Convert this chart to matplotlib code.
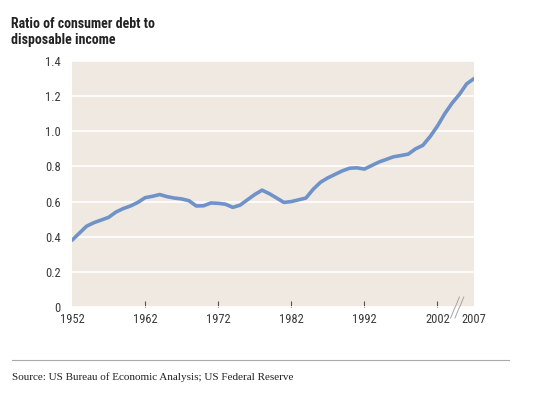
#!/usr/bin/env python3
import matplotlib
matplotlib.use("Agg")
import matplotlib.pyplot as plt
import matplotlib.transforms as mtrans
from matplotlib.lines import Line2D
from matplotlib import font_manager

years = list(range(1952, 2008))
ratio = [0.38, 0.42, 0.46, 0.48, 0.495, 0.51, 0.54, 0.56, 0.575, 0.595,
         0.622, 0.63, 0.64, 0.628, 0.62, 0.615, 0.605, 0.575, 0.576, 0.592,
         0.59, 0.585, 0.567, 0.58, 0.61, 0.64, 0.665, 0.645, 0.62, 0.595,
         0.60, 0.61, 0.62, 0.67, 0.71, 0.735, 0.755, 0.775, 0.79, 0.792,
         0.785, 0.805, 0.825, 0.84, 0.855, 0.862, 0.87, 0.90, 0.92, 0.97,
         1.03, 1.10, 1.16, 1.21, 1.27, 1.30]
xticks = [1952, 1962, 1972, 1982, 1992, 2002, 2007]
yticks = [0, 0.2, 0.4, 0.6, 0.8, 1.0, 1.2, 1.4]
ylabels = ["0", "0.2", "0.4", "0.6", "0.8", "1.0", "1.2", "1.4"]

names = {f.name for f in font_manager.fontManager.ttflist}
narrow = "DejaVu Sans"
for cand in ["Liberation Sans Narrow", "Roboto Condensed", "Open Sans Condensed", "DejaVu Sans"]:
    if cand in names:
        narrow = cand
        break
fp = font_manager.FontProperties(family=narrow, stretch="condensed", size=9)
fpb = font_manager.FontProperties(family=narrow, stretch="condensed", weight="bold", size=10)

fig = plt.figure(figsize=(5.45, 3.94), dpi=100)
ax = fig.add_axes([72 / 545, 1 - 307 / 394, 402 / 545, 246 / 394])
ax.set_facecolor("#efe9e2")
ax.plot(years, ratio, color="#6f93c8", lw=2.6, solid_capstyle="round", zorder=3)
ax.set_xlim(1952, 2007)
ax.set_ylim(0, 1.4)
ax.set_yticks(yticks)
ax.set_yticklabels(ylabels)
ax.set_xticks(xticks)
ax.set_xticklabels([str(x) for x in xticks])
ax.grid(axis="y", color="white", lw=1.2)
ax.set_axisbelow(True)
for s in ax.spines.values():
    s.set_visible(False)
ax.tick_params(axis="y", length=0, pad=8, labelcolor="#3a3a3a")
ax.tick_params(axis="x", direction="in", length=4, width=0.8, color="#555555",
               pad=4, labelcolor="#3a3a3a")
for lab in ax.get_xticklabels() + ax.get_yticklabels():
    lab.set_fontproperties(fp)
xt = ax.xaxis.get_major_ticks()
xt[0].tick1line.set_visible(False)
xt[-1].tick1line.set_visible(False)

# axis break mark
tr = mtrans.blended_transform_factory(ax.transData, fig.transFigure)
bx = 2004.7
for dx in (-0.3, 0.3):
    ln = Line2D([bx + dx - 0.6, bx + dx - 0.1, bx + dx + 0.1, bx + dx + 0.6],
                [(394 - 318) / 394, (394 - 309) / 394, (394 - 306) / 394, (394 - 297) / 394],
                transform=tr, color="#a5a5a5", lw=0.7, clip_on=False)
    fig.add_artist(ln)

fig.text(11 / 545, 1 - 17 / 394, "Ratio of consumer debt to\ndisposable income",
         ha="left", va="top", fontproperties=fpb, color="#222222", linespacing=1.2)
fig.add_artist(Line2D([12 / 545, 509 / 545], [1 - 360 / 394] * 2,
                      color="#aaaaaa", lw=0.8))
fig.text(12 / 545, 1 - 377 / 394, "Source: US Bureau of Economic Analysis; US Federal Reserve",
         ha="left", va="center", fontsize=8, family="Liberation Serif", color="#222222")

fig.savefig("out.png", dpi=100, facecolor="white")
